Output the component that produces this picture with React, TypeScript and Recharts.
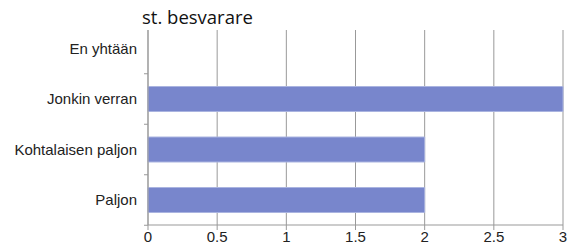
import React from "react";
import { BarChart, Bar, XAxis, YAxis, CartesianGrid } from "recharts";

const categories = ["En yhtään", "Jonkin verran", "Kohtalaisen paljon", "Paljon"];
const values = [0, 3, 2, 2];
const xTicks = [0, 0.5, 1, 1.5, 2, 2.5, 3];
const title = "st. besvarare";

const data = categories.map((c, i) => ({ name: c, value: values[i] }));

const FONT = "Liberation Sans, Arial, sans-serif";
const HALF_BAND = 25.5;

const YTick = (props: any) => {
  const { x, y, payload } = props;
  return (
    <g>
      <line x1={x + 7} x2={x + 11} y1={y + HALF_BAND} y2={y + HALF_BAND} stroke="#999" />
      <text x={x} y={y} dy="0.35em" textAnchor="end" fill="#222" fontSize={15} fontFamily={FONT}>
        {payload.value}
      </text>
    </g>
  );
};

export default function App() {
  return (
    <div style={{ position: "absolute", left: 0, top: 0, width: 568, height: 252, background: "#fff" }}>
      <BarChart
        width={568}
        height={252}
        data={data}
        layout="vertical"
        margin={{ top: 23, right: 5, bottom: 0, left: 0 }}
        barCategoryGap="50%"
      >
        <CartesianGrid horizontal={false} stroke="#999" strokeWidth={1} />
        <XAxis
          type="number"
          domain={[0, 3]}
          ticks={xTicks}
          height={27}
          stroke="#999"
          tickSize={5}
          tickMargin={1}
          tick={{ fill: "#222", fontSize: 15, fontFamily: FONT }}
          interval={0}
        />
        <YAxis
          type="category"
          dataKey="name"
          width={148}
          stroke="#999"
          tickSize={4}
          tickMargin={7}
          tickLine={false}
          tick={<YTick />}
          interval={0}
        />
        <Bar dataKey="value" fill="#7886cc" stroke="#aab4e0" strokeWidth={1} barSize={25} isAnimationActive={false} />
      </BarChart>
      <div
        style={{
          position: "absolute",
          left: 140,
          top: 0,
          width: 428,
          height: 30,
          background: "#fff",
        }}
      />
      <div
        style={{
          position: "absolute",
          left: 142,
          top: 5,
          fontFamily: "Open Sans, Noto Sans, sans-serif",
          fontSize: 18.5,
          color: "#111",
          lineHeight: "24px",
        }}
      >
        {title}
      </div>
    </div>
  );
}
